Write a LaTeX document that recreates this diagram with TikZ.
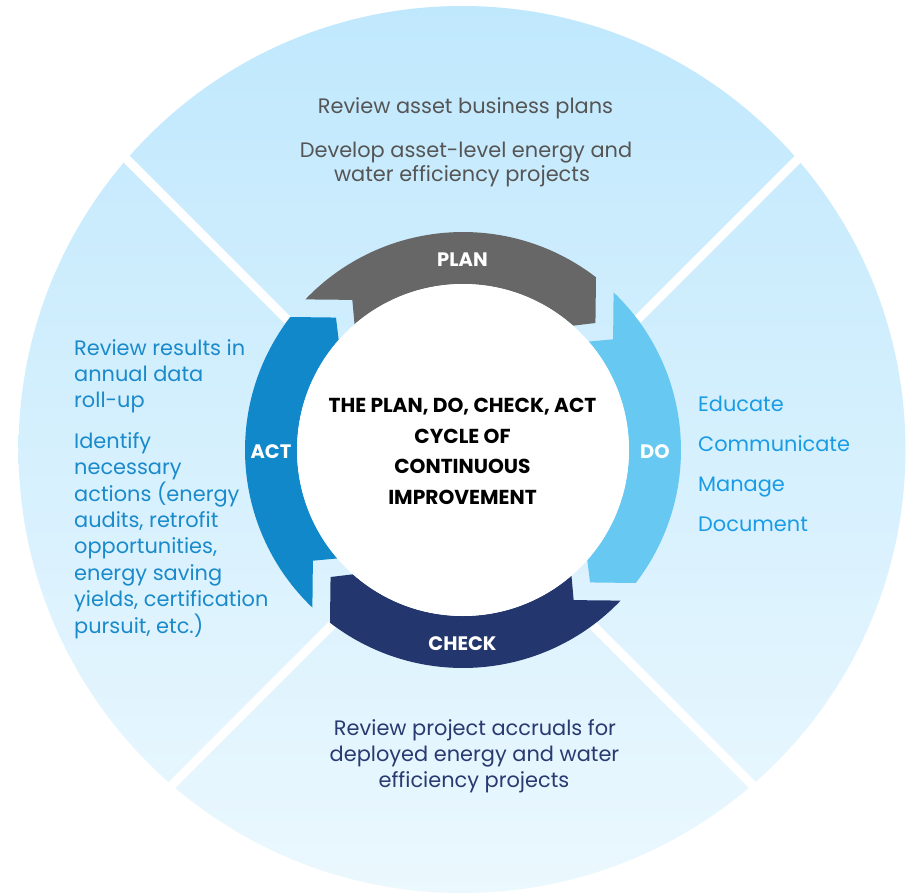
\documentclass[tikz,border=0pt]{standalone}
\usepackage{fontspec}
\setmainfont{Poppins}
\definecolor{bgtop}{HTML}{C0E8FD}
\definecolor{bgbot}{HTML}{EBF8FE}
\definecolor{plancol}{HTML}{676767}
\definecolor{docol}{HTML}{67C8F1}
\definecolor{checkcol}{HTML}{24366E}
\definecolor{actcol}{HTML}{1188C9}
\definecolor{toptext}{HTML}{555555}
\definecolor{lefttext}{HTML}{1A8ACB}
\definecolor{righttext}{HTML}{1A9CE5}
\definecolor{bottext}{HTML}{283A70}
\begin{document}
\begin{tikzpicture}[x=1pt,y=1pt,
  gapline/.style={white,line width=9pt},
  body/.style={inner sep=0pt,anchor=base,font=\fontsize{20.9}{26}\selectfont},
  ringlabel/.style={inner sep=0pt,anchor=base,text=white,font=\bfseries\fontsize{19.5}{22}\selectfont},
  centretext/.style={inner sep=0pt,anchor=base,text=black,font=\bfseries\fontsize{20.2}{24}\selectfont}]
\useasboundingbox (-463,-445) rectangle (448,450);
\fill[white] (-463,-445) rectangle (448,450);
% background disc
\shade[top color=bgtop,bottom color=bgbot] (-1,0.5) circle[radius=443.5];
% white separating gaps
\begin{scope}
  \clip (-1,0.5) circle[radius=444];
  \coordinate (g1) at (-175.25,129.75);
  \coordinate (g2) at (129.75,-175.25);
  \coordinate (g3) at (174.55,130.55);
  \coordinate (g4) at (-130.55,-174.55);
  \draw[gapline] (g1) -- ++(-400,400);
  \draw[gapline] (g2) -- ++(400,-400);
  \draw[gapline] (g3) -- ++(400,400);
  \draw[gapline] (g4) -- ++(-400,-400);
\end{scope}
% cycle arrows
\foreach \k/\col in {0/plancol,1/docol,2/checkcol,3/actcol}{
  \fill[\col,rotate=-90*\k] (136.3:218) arc[start angle=136.3,end angle=52.4,radius=218]
    -- (43.8:183.5) -- (48.5:166) arc[start angle=48.5,end angle=130.8,radius=166]
    -- (126.4:186.5) -- cycle;
}
\fill[white] (0,0) circle[radius=166];
% ring labels
\node[ringlabel] (plan) at (-0.5,184) {PLAN};
\node[ringlabel] (do) at (192,-8.3) {DO};
\node[ringlabel] (check) at (-0.5,-200.7) {CHECK};
\node[ringlabel] (act) at (-192,-8) {ACT};
% centre text
\node[centretext] (c1) at (-0.5,37.3) {THE PLAN, DO, CHECK, ACT};
\node[centretext] (c2) at (-0.5,7) {CYCLE OF};
\node[centretext] (c3) at (-0.5,-23.5) {CONTINUOUS};
\node[centretext] (c4) at (-0.5,-54) {IMPROVEMENT};
% top text
\node[body,text=toptext] (t1) at (2.5,336) {Review asset business plans};
\node[body,text=toptext] (t2) at (3,292.3) {Develop asset-level energy and};
\node[body,text=toptext] (t3) at (-1,268.3) {water efficiency projects};
% left text
\foreach \i/\txt in {0/Review results in,1/annual data,2/roll-up}{
  \node[body,anchor=base west,text=lefttext] (la\i) at (-389,95-26.3*\i) {\txt};
}
\foreach \i/\txt in {0/Identify,1/necessary,2/actions (energy,3/{audits, retrofit},4/{opportunities,},5/energy saving,6/{yields, certification},7/{pursuit, etc.)}}{
  \node[body,anchor=base west,text=lefttext] (lb\i) at (-389,1.7-26.4*\i) {\txt};
}
% right text
\node[body,anchor=base west,text=righttext] (r1) at (235,38.3) {Educate};
\node[body,anchor=base west,text=righttext] (r2) at (235,-1.7) {Communicate};
\node[body,anchor=base west,text=righttext] (r3) at (235,-41.7) {Manage};
\node[body,anchor=base west,text=righttext] (r4) at (235,-81.7) {Document};
% bottom text
\node[body,text=bottext] (b1) at (12,-285) {Review project accruals for};
\node[body,text=bottext] (b2) at (11.5,-311.7) {deployed energy and water};
\node[body,text=bottext] (b3) at (11,-337.7) {efficiency projects};
\end{tikzpicture}
\end{document}
